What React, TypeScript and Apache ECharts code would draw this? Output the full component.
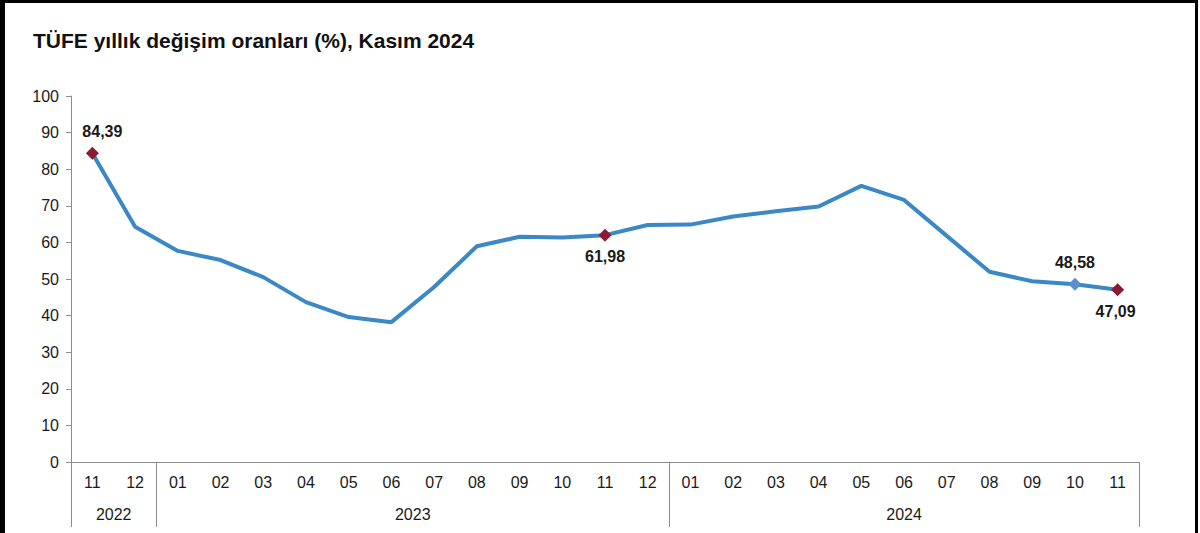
import React, { useEffect, useRef } from "react";
import * as echarts from "echarts";

const titleText = "TÜFE yıllık değişim oranları (%), Kasım 2024";
const months = ["11","12","01","02","03","04","05","06","07","08","09","10","11","12","01","02","03","04","05","06","07","08","09","10","11"];
const values = [84.39,64.27,57.68,55.18,50.51,43.68,39.59,38.21,47.83,58.94,61.53,61.36,61.98,64.77,64.86,67.07,68.50,69.80,75.45,71.60,61.78,51.97,49.38,48.58,47.09];
const years = ["2022", "2023", "2024"];
const yearCounts = [2, 12, 11];
// labelled points: index, marker colour, label position
const labelled = [
  { idx: 0, color: "#8B1A33", pos: "top", dx: 10 },
  { idx: 12, color: "#8B1A33", pos: "bottom", dx: 0 },
  { idx: 23, color: "#5B8FD3", pos: "top", dx: 0 },
  { idx: 24, color: "#8B1A33", pos: "bottom", dx: -2 },
];

const FONT = "'Liberation Sans', Arial, sans-serif";

export default function App() {
  const ref = useRef<HTMLDivElement>(null);
  useEffect(() => {
    if (!ref.current) return;
    const chart = echarts.init(ref.current, null, { renderer: "svg" });

    const yearStarts: number[] = [0];
    yearCounts.forEach((c, i) => yearStarts.push(yearStarts[i] + c));
    const yearCenters = yearCounts.map((c, i) => yearStarts[i] + c / 2);

    const seriesData = values.map((v, i) => {
      const l = labelled.find((x) => x.idx === i);
      if (!l) return v;
      return {
        value: v,
        symbol: "diamond",
        symbolSize: 13,
        itemStyle: { color: l.color },
        label: {
          show: true,
          position: l.pos,
          offset: [l.dx, 0],
          distance: 7,
          formatter: () => v.toFixed(2).replace(".", ","),
          fontFamily: FONT,
          fontWeight: "bold",
          fontSize: 16,
          color: "#1a1a1a",
        },
      };
    });

    chart.setOption({
      animation: false,
      backgroundColor: "#ffffff",
      title: {
        text: titleText,
        left: 28,
        top: 25,
        textStyle: { fontFamily: FONT, fontWeight: "bold", fontSize: 21, color: "#111" },
      },
      grid: { left: 71, right: 61, top: 96, bottom: 71, containLabel: false },
      xAxis: [
        {
          type: "category",
          data: months,
          boundaryGap: true,
          position: "bottom",
          axisLine: { lineStyle: { color: "#8c8c8c", width: 1 } },
          axisTick: { interval: 0, length: 35, lineStyle: { color: "#8c8c8c" } },
          axisLabel: { interval: 0, margin: 12, fontFamily: FONT, fontSize: 16, color: "#1a1a1a" },
          splitLine: { show: false },
        },
        {
          type: "value",
          min: 0,
          max: yearStarts[yearStarts.length - 1],
          position: "bottom",
          axisLine: { show: false },
          axisTick: { show: true, customValues: yearStarts, length: 65, lineStyle: { color: "#8c8c8c" } },
          axisLabel: {
            customValues: yearCenters,
            margin: 44,
            fontFamily: FONT,
            fontSize: 16,
            color: "#1a1a1a",
            formatter: (v: number) => {
              const i = yearCenters.findIndex((c) => Math.abs(c - v) < 1e-6);
              return i >= 0 ? years[i] : "";
            },
          },
          splitLine: { show: false },
        },
      ],
      yAxis: {
        type: "value",
        min: 0,
        max: 100,
        interval: 10,
        axisLine: { show: true, lineStyle: { color: "#8c8c8c" } },
        axisTick: { show: true, length: 5, lineStyle: { color: "#8c8c8c" } },
        axisLabel: { margin: 12, fontFamily: FONT, fontSize: 16, color: "#1a1a1a" },
        splitLine: { show: false },
      },
      series: [
        {
          type: "line",
          xAxisIndex: 0,
          data: seriesData,
          symbol: "none",
          lineStyle: { color: "#3A88C6", width: 4 },
          itemStyle: { color: "#3A88C6" },
          z: 3,
        },
      ],
      graphic: [
        { type: "rect", shape: { x: 0, y: 0, width: 5, height: 533 }, style: { fill: "#000" }, z: 100 },
        { type: "rect", shape: { x: 0, y: 0, width: 1198, height: 3 }, style: { fill: "#000" }, z: 100 },
        { type: "rect", shape: { x: 1195, y: 0, width: 3, height: 533 }, style: { fill: "#000" }, z: 100 },
      ],
    });
    return () => chart.dispose();
  }, []);
  return (
    <div
      ref={ref}
      style={{ position: "absolute", left: 0, top: 0, width: 1200, height: 533 }}
    />
  );
}
